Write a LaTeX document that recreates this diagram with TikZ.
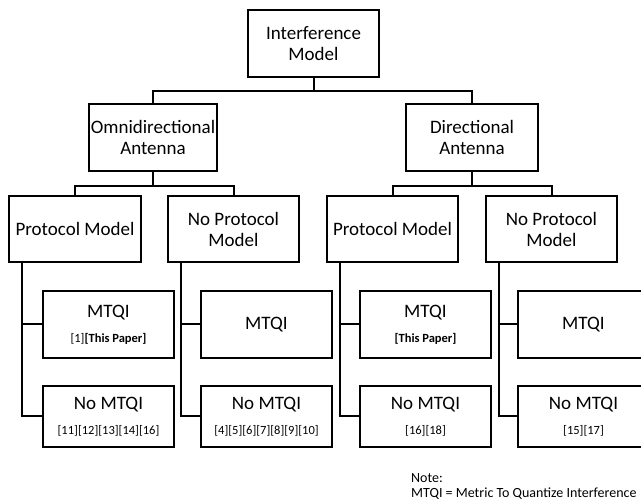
\documentclass[tikz,border=0pt]{standalone}
\usepackage{fontspec}
\setmainfont{Carlito}
\usetikzlibrary{calc}
\begin{document}
\begin{tikzpicture}[x=1pt,y=-1pt,
  box/.style={draw=black,line width=2pt,rectangle,inner sep=0pt,align=center,
    font=\fontsize{19}{21}\selectfont},
  conn/.style={draw=black,line width=2pt},
  notetext/.style={anchor=base west,inner sep=0pt,font=\fontsize{14}{16}\selectfont}]
\useasboundingbox (0,0) rectangle (641,502);
% level 0/1
\node[box,minimum width=131pt,minimum height=67pt] (root) at (313.5,43.5) {Interference\\Model};
\node[box,minimum width=128pt,minimum height=67pt] (omni) at (153,137.5) {Omnidirectional\\Antenna};
\node[box,minimum width=132pt,minimum height=67pt] (dir) at (472,137.5) {Directional\\Antenna};
% level 2
\node[box,minimum width=132pt,minimum height=66pt] (pm1) at (75,229) {Protocol Model};
\node[box,minimum width=131pt,minimum height=66pt] (np1) at (233.5,229) {No Protocol\\Model};
\node[box,minimum width=131pt,minimum height=66pt] (pm2) at (392.5,229) {Protocol Model};
\node[box,minimum width=131pt,minimum height=66pt] (np2) at (551.5,229) {No Protocol\\Model};
% level 3
\node[box,minimum width=131pt,minimum height=67pt] (m1) at (108.5,324.5) {MTQI\\[4pt]{\fontsize{12.5}{14}\selectfont [1]\textbf{[This Paper]}}};
\node[box,minimum width=131pt,minimum height=67pt] (m2) at (266.5,324.5) {MTQI};
\node[box,minimum width=131pt,minimum height=67pt] (m3) at (425.5,324.5) {MTQI\\[4pt]{\fontsize{12.5}{14}\selectfont\bfseries [This Paper]}};
\node[box,minimum width=131pt,minimum height=67pt] (m4) at (583.5,324.5) {MTQI};
\node[box,minimum width=131pt,minimum height=61pt] (n1) at (108.5,416.5) {No MTQI\\[4pt]{\fontsize{12.5}{14}\selectfont [11][12][13][14][16]}};
\node[box,minimum width=131pt,minimum height=61pt] (n2) at (266.5,416.5) {No MTQI\\[4pt]{\fontsize{12.5}{14}\selectfont [4][5][6][7][8][9][10]}};
\node[box,minimum width=131pt,minimum height=61pt] (n3) at (425.5,416.5) {No MTQI\\[4pt]{\fontsize{12.5}{14}\selectfont [16][18]}};
\node[box,minimum width=131pt,minimum height=61pt] (n4) at (583.5,416.5) {No MTQI\\[4pt]{\fontsize{12.5}{14}\selectfont [15][17]}};
% note
\node[notetext] (note) at (411,483) {Note:};
\node[notetext] (def) at (411,497.5) {MTQI = Metric To Quantize Interference};
% connectors level 0-1
\coordinate (j0) at (313.5,91);
\draw[conn] (root.south) -- (j0);
\draw[conn] (omni.north) |- (j0) -| (dir.north);
% connectors level 1-2
\coordinate (j1) at (153,186);
\coordinate (j2) at (472,186);
\draw[conn] (omni.south) -- (j1);
\draw[conn] (pm1.north) |- (j1) -| (np1.north);
\draw[conn] (dir.south) -- (j2);
\draw[conn] (pm2.north) |- (j2) -| (np2.north);
% trunks level 2-3
\foreach \p/\m/\n in {pm1/m1/n1,np1/m2/n2,pm2/m3/n3,np2/m4/n4}{
  \coordinate (t\p) at ([xshift=14pt]\p.south west);
  \draw[conn] (t\p) |- (\n.west);
  \draw[conn] (\m.west) -- (\m.west -| t\p);
}
\end{tikzpicture}
\end{document}
